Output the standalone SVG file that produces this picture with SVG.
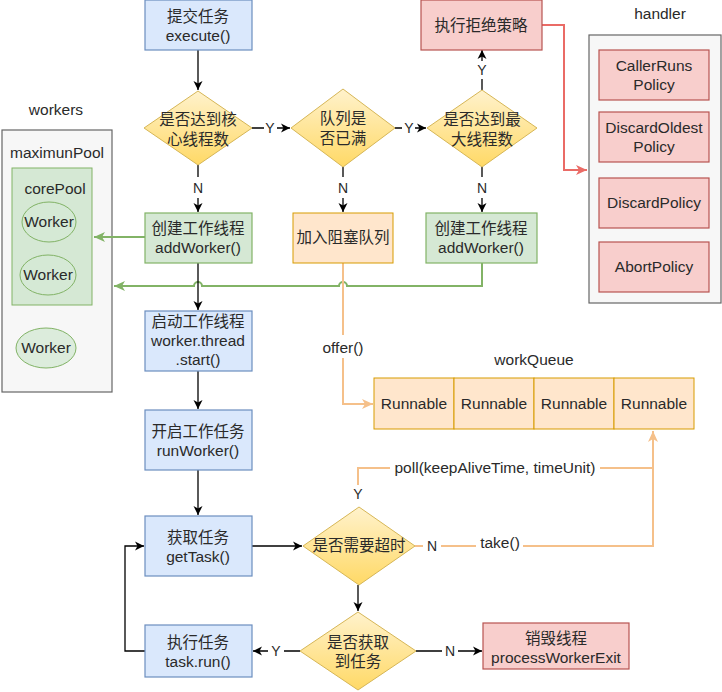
<svg xmlns="http://www.w3.org/2000/svg" width="722" height="692" viewBox="0 0 722 692">
<defs>
<linearGradient id="gy" x1="0" y1="0" x2="0" y2="1">
<stop offset="0" stop-color="#fff2cc"/>
<stop offset="1" stop-color="#ffd966"/>
</linearGradient>
<marker id="ab" markerUnits="userSpaceOnUse" markerWidth="12" markerHeight="12" refX="10" refY="6" orient="auto"><path d="M1,1.5 L10,6 L1,10.5 L3.5,6 Z" fill="#000"/></marker>
<marker id="ag" markerUnits="userSpaceOnUse" markerWidth="14" markerHeight="14" refX="12" refY="7" orient="auto"><path d="M1,2 L12,7 L1,12 L4,7 Z" fill="#82b366"/></marker>
<marker id="ao" markerUnits="userSpaceOnUse" markerWidth="14" markerHeight="14" refX="12" refY="7" orient="auto"><path d="M1,2 L12,7 L1,12 L4,7 Z" fill="#f5c08a"/></marker>
<marker id="ar" markerUnits="userSpaceOnUse" markerWidth="14" markerHeight="14" refX="12" refY="7" orient="auto"><path d="M1,2 L12,7 L1,12 L4,7 Z" fill="#ea6b66"/></marker>
</defs>
<style>
text{font-family:"Liberation Sans","Noto Sans CJK SC",sans-serif;font-size:15.5px;fill:#2a2a2a;text-anchor:middle}
.blue{fill:#dae8fc;stroke:#6c8ebf;stroke-width:1.2}
.green{fill:#d5e8d4;stroke:#82b366;stroke-width:1.2}
.orange{fill:#ffe6cc;stroke:#d79b00;stroke-width:1}
.red{fill:#f8cecc;stroke:#b85450;stroke-width:1.2}
.gray{fill:#f7f7f7;stroke:#666;stroke-width:1.2}
.dia{fill:url(#gy);stroke:#d6b656;stroke-width:1}
.wk{fill:#d5e8d4;stroke:#82b366;stroke-width:1;fill-opacity:0.8}
.cb{fill:none;stroke:#000;stroke-width:1.3}
.cg{fill:none;stroke:#82b366;stroke-width:2}
.co{fill:none;stroke:#f5c08a;stroke-width:2}
.cr{fill:none;stroke:#ea6b66;stroke-width:2}
.lbl{font-size:14px}
</style>

<g id="workers">
<text x="56" y="115">workers</text>
<rect class="gray" x="2" y="130" width="110" height="262"/>
<text x="57" y="158">maximunPool</text>
<rect x="12" y="168" width="80" height="137" fill="#d5e8d4" stroke="#82b366" stroke-width="1"/>
<text x="55" y="194">corePool</text>
<ellipse class="wk" cx="49" cy="222" rx="27" ry="20"/>
<text x="49" y="227">Worker</text>
<ellipse class="wk" cx="48" cy="275" rx="28" ry="20"/>
<text x="48" y="280">Worker</text>
<ellipse class="wk" cx="46" cy="348" rx="30" ry="20"/>
<text x="46" y="353">Worker</text>
</g>

<g id="handler">
<text x="660" y="19">handler</text>
<rect class="gray" x="589" y="35" width="132" height="268"/>
</g>
<g id="callerRuns"><rect class="red" x="599" y="50" width="110" height="50"/><text x="654" y="71">CallerRuns</text><text x="654" y="90">Policy</text></g>
<g id="discardOldest"><rect class="red" x="599" y="112" width="110" height="50"/><text x="654" y="133">DiscardOldest</text><text x="654" y="152">Policy</text></g>
<g id="discardPolicy"><rect class="red" x="599" y="178" width="110" height="50"/><text x="654" y="208">DiscardPolicy</text></g>
<g id="abortPolicy"><rect class="red" x="599" y="242" width="110" height="50"/><text x="654" y="272">AbortPolicy</text></g>

<g id="connectors">
<path class="cb" d="M198,50 V90" marker-end="url(#ab)"/>
<path class="cb" d="M252,128 H264 M277,128 H290" marker-end="url(#ab)"/>
<text class="lbl" x="270" y="133">Y</text>
<path class="cb" d="M395,128 H402 M415,128 H426" marker-end="url(#ab)"/>
<text class="lbl" x="409" y="133">Y</text>
<path class="cb" d="M198,165 V177 M198,198 V212" marker-end="url(#ab)"/>
<text class="lbl" x="198" y="193">N</text>
<path class="cb" d="M343,167 V177 M343,198 V212" marker-end="url(#ab)"/>
<text class="lbl" x="343" y="193">N</text>
<path class="cb" d="M482,167 V177 M482,198 V212" marker-end="url(#ab)"/>
<text class="lbl" x="482" y="193">N</text>
<path class="cb" d="M482,90 V79 M482,61 V50" marker-end="url(#ab)"/>
<text class="lbl" x="482" y="75">Y</text>
<path class="cr" d="M542,25 H564 V170 H587" marker-end="url(#ar)"/>
<path class="cg" d="M145,237 H94" marker-end="url(#ag)"/>
<path class="cg" d="M482,263 V286 H347 A4,4 0 0 0 339,286 H202 A4,4 0 0 0 194,286 H114" marker-end="url(#ag)"/>
<path class="cb" d="M198,263 V310" marker-end="url(#ab)"/>
<path class="co" d="M343,263 V335 M343,358 V404 H373" marker-end="url(#ao)"/>
<text x="343" y="353">offer()</text>
<path class="cb" d="M198,371 V409" marker-end="url(#ab)"/>
<path class="cb" d="M198,470 V515" marker-end="url(#ab)"/>
<path class="cb" d="M252,546 H302" marker-end="url(#ab)"/>
<path class="co" d="M415,546 H423 M441,546 H476 M523,546 H653 V431" marker-end="url(#ao)"/>
<text class="lbl" x="432" y="551">N</text>
<text x="500" y="548">take()</text>
<path class="co" d="M358,485 V468 H390 M600,468 H653"/>
<text x="495" y="473">poll(keepAliveTime, timeUnit)</text>
<text class="lbl" x="358" y="499">Y</text>
<path class="cb" d="M358,585 V611" marker-end="url(#ab)"/>
<path class="cb" d="M300,651 H284 M268,651 H253" marker-end="url(#ab)"/>
<text class="lbl" x="276" y="656">Y</text>
<path class="cb" d="M416,651 H442 M458,651 H482" marker-end="url(#ab)"/>
<text class="lbl" x="450" y="656">N</text>
<path class="cb" d="M145,651 H125 V546 H144" marker-end="url(#ab)"/>
</g>

<g id="execute"><rect class="blue" x="145" y="0" width="107" height="50"/><text x="198" y="22">提交任务</text><text x="198" y="41">execute()</text></g>
<g id="reject"><rect class="red" x="421" y="0" width="121" height="50"/><text x="481" y="31">执行拒绝策略</text></g>
<g id="coreCheck"><path class="dia" d="M198,91 L252,128 L198,165 L144,128 Z"/><text x="198" y="125">是否达到核</text><text x="198" y="145">心线程数</text></g>
<g id="queueFull"><path class="dia" d="M343,89 L395,128 L343,167 L291,128 Z"/><text x="343" y="124">队列是</text><text x="343" y="144">否已满</text></g>
<g id="maxCheck"><path class="dia" d="M482,90 L537,128 L482,167 L427,128 Z"/><text x="482" y="125">是否达到最</text><text x="482" y="145">大线程数</text></g>
<g id="addWorker1"><rect class="green" x="145" y="213" width="107" height="50"/><text x="198" y="234">创建工作线程</text><text x="198" y="253">addWorker()</text></g>
<g id="enqueue"><rect class="orange" x="293" y="213" width="100" height="50"/><text x="343" y="243">加入阻塞队列</text></g>
<g id="addWorker2"><rect class="green" x="426" y="213" width="111" height="50"/><text x="481" y="234">创建工作线程</text><text x="481" y="253">addWorker()</text></g>
<g id="startThread"><rect class="blue" x="145" y="311" width="107" height="60"/><text x="198" y="327">启动工作线程</text><text x="198" y="346">worker.thread</text><text x="198" y="365">.start()</text></g>
<g id="runWorker"><rect class="blue" x="145" y="410" width="107" height="60"/><text x="198" y="437">开启工作任务</text><text x="198" y="456">runWorker()</text></g>
<g id="workQueue">
<text x="534" y="365">workQueue</text>
<rect class="orange" x="374" y="378" width="80" height="51"/><text x="414" y="409">Runnable</text>
<rect class="orange" x="454" y="378" width="80" height="51"/><text x="494" y="409">Runnable</text>
<rect class="orange" x="534" y="378" width="80" height="51"/><text x="574" y="409">Runnable</text>
<rect class="orange" x="614" y="378" width="80" height="51"/><text x="654" y="409">Runnable</text>
</g>
<g id="getTask"><rect class="blue" x="145" y="516" width="107" height="60"/><text x="198" y="543">获取任务</text><text x="198" y="562">getTask()</text></g>
<g id="timeoutCheck"><path class="dia" d="M359,507 L415,546 L359,585 L303,546 Z"/><text x="359" y="551">是否需要超时</text></g>
<g id="gotTask"><path class="dia" d="M358,612 L416,651 L358,690 L300,651 Z"/><text x="358" y="648">是否获取</text><text x="358" y="667">到任务</text></g>
<g id="taskRun"><rect class="blue" x="145" y="625" width="107" height="52"/><text x="198" y="648">执行任务</text><text x="198" y="667">task.run()</text></g>
<g id="destroy"><rect class="red" x="483" y="623" width="146" height="46"/><text x="556" y="644">销毁线程</text><text x="556" y="663">processWorkerExit</text></g>
</svg>
